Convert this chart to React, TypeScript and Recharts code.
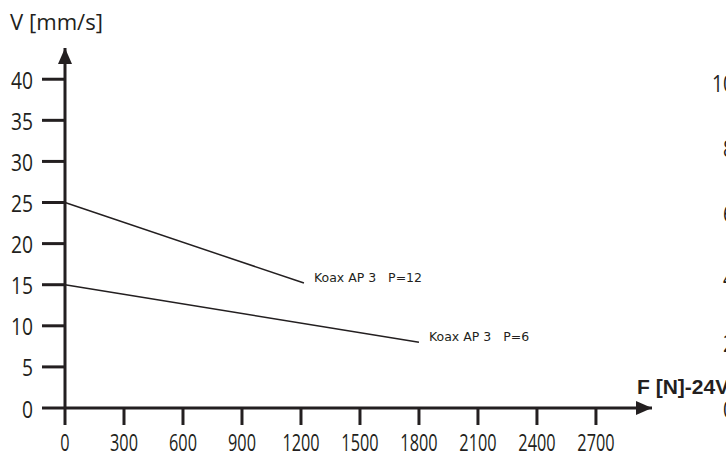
import { LineChart, Line, XAxis, YAxis, LabelList } from 'recharts'

const forceP12 = [0, 1215]
const speedP12 = [25, 15.2]
const forceP6 = [0, 1800]
const speedP6 = [15, 8]
const seriesNames = ['Koax AP 3   P=12', 'Koax AP 3   P=6']

const xTicks = [0, 300, 600, 900, 1200, 1500, 1800, 2100, 2400, 2700]
const yTicks = [0, 5, 10, 15, 20, 25, 30, 35, 40]
const rightTicks = [0, 2, 4, 6, 8, 10]

const ink = '#231f20'
const humanist = '"Open Sans", "DejaVu Sans", sans-serif'

const p12 = forceP12.map((f, i) => ({ f, v: speedP12[i] }))
const p6 = forceP6.map((f, i) => ({ f, v: speedP6[i] }))

// condensed look: squeeze each label to a fixed width per character
function squeezedTick(perChar: number, anchor: 'start' | 'middle' | 'end', dy: number) {
  return (props: any) => {
    const label = String(props.payload.value)
    return (
      <text
        x={props.x}
        y={props.y + dy}
        textAnchor={anchor}
        fontSize={23}
        fontFamily={humanist}
        fill={ink}
        textLength={label.length * perChar}
        lengthAdjust="spacingAndGlyphs"
      >
        {label}
      </text>
    )
  }
}

function endLabel(name: string, lastIndex: number) {
  return (props: any) => {
    if (props.index !== lastIndex) return null
    return (
      <text
        x={props.x + 10}
        y={props.y - 1}
        fontSize={12.5}
        fontFamily='"DejaVu Sans", Verdana, sans-serif'
        fill={ink}
        style={{ whiteSpace: 'pre' }}
      >
        {name}
      </text>
    )
  }
}

export default function App() {
  return (
    <div style={{ position: 'absolute', left: 0, top: 0, background: '#fff' }}>
      <LineChart width={726} height={453} margin={{ top: 48, right: 0, bottom: 0, left: 0 }}>
        <defs>
          <marker id="arrowHead" viewBox="0 0 16 14" refX={16} refY={7} markerWidth={16} markerHeight={14}
            markerUnits="userSpaceOnUse" orient="auto-start-reverse">
            <path d="M0,0 L16,7 L0,14 z" fill={ink} />
          </marker>
        </defs>
        <XAxis
          type="number"
          dataKey="f"
          domain={[0, 2985]}
          ticks={xTicks}
          height={45}
          tickSize={17}
          tickMargin={0}
          axisLine={{ stroke: ink, strokeWidth: 3, markerEnd: 'url(#arrowHead)' }}
          tickLine={{ stroke: ink, strokeWidth: 3 }}
          tick={squeezedTick(9.3, 'middle', 26)}
          label={{
            content: (p: any) => (
              <text x={p.viewBox.x + p.viewBox.width - 15} y={p.viewBox.y - 14} fontSize={21}
                fontWeight="bold" fontFamily='"Liberation Sans", Arial, sans-serif' fill={ink}>
                F [N]-24V
              </text>
            ),
          }}
        />
        <YAxis
          yAxisId="left"
          type="number"
          domain={[0, 43.8]}
          ticks={yTicks}
          width={65}
          tickSize={23}
          tickMargin={9}
          axisLine={{ stroke: ink, strokeWidth: 3, markerStart: 'url(#arrowHead)' }}
          tickLine={{ stroke: ink, strokeWidth: 3 }}
          tick={squeezedTick(11, 'end', 9.5)}
          label={{
            content: (p: any) => (
              <text x={p.viewBox.x + 10} y={p.viewBox.y - 18} fontSize={22} fontFamily={humanist} fill={ink}
                textLength={93} lengthAdjust="spacingAndGlyphs">
                V [mm/s]
              </text>
            ),
          }}
        />
        <YAxis
          yAxisId="right"
          orientation="right"
          type="number"
          domain={[0, 11.05]}
          allowDataOverflow
          ticks={rightTicks}
          width={74}
          tickSize={7}
          tickMargin={75}
          axisLine={false}
          tickLine={false}
          tick={squeezedTick(11, 'end', 9.5)}
        />
        <Line yAxisId="left" data={p12} dataKey="v" stroke={ink} strokeWidth={1.5} dot={false}
          isAnimationActive={false}>
          <LabelList dataKey="v" content={endLabel(seriesNames[0], p12.length - 1)} />
        </Line>
        <Line yAxisId="left" data={p6} dataKey="v" stroke={ink} strokeWidth={1.5} dot={false}
          isAnimationActive={false}>
          <LabelList dataKey="v" content={endLabel(seriesNames[1], p6.length - 1)} />
        </Line>
      </LineChart>
    </div>
  )
}
